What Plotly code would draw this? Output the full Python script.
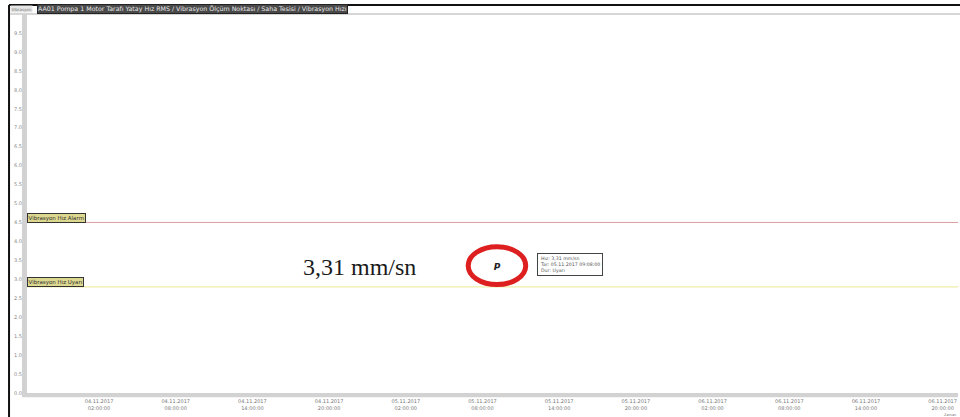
import plotly.graph_objects as go
from datetime import datetime, timedelta

# Time axis ticks (every 6 hours)
tick_times = [
    "2017-11-04 02:00:00", "2017-11-04 08:00:00", "2017-11-04 14:00:00", "2017-11-04 20:00:00",
    "2017-11-05 02:00:00", "2017-11-05 08:00:00", "2017-11-05 14:00:00", "2017-11-05 20:00:00",
    "2017-11-06 02:00:00", "2017-11-06 08:00:00", "2017-11-06 14:00:00", "2017-11-06 20:00:00",
]
tick_text = [
    "04.11.2017<br>02:00:00", "04.11.2017<br>08:00:00", "04.11.2017<br>14:00:00", "04.11.2017<br>20:00:00",
    "05.11.2017<br>02:00:00", "05.11.2017<br>08:00:00", "05.11.2017<br>14:00:00", "05.11.2017<br>20:00:00",
    "06.11.2017<br>02:00:00", "06.11.2017<br>08:00:00", "06.11.2017<br>14:00:00", "06.11.2017<br>20:00:00",
]
x_range = ["2017-11-03 20:22:00", "2017-11-06 21:12:00"]

# Vertical scale (mm/sn)
y_ticks = [i * 0.5 for i in range(20)]
y_range = [0, 10]

# Limits
alarm_level = 4.5
warning_level = 2.8
alarm_label = "Vibrasyon Hız Alarm"
warning_label = "Vibrasyon Hız Uyarı"

# Measured point
point_time = "2017-11-05 09:08:00"
point_value = 3.31
point_label = "3,31 mm/sn"
label_time = "2017-11-04 22:25:00"

title_text = "AA01 Pompa 1 Motor Tarafı Yatay Hız RMS / Vibrasyon Ölçüm Noktası / Saha Tesisi / Vibrasyon Hızı"

fig = go.Figure()

# Limit lines
fig.add_trace(go.Scatter(x=x_range, y=[alarm_level, alarm_level], mode="lines",
                         line=dict(color="#d9a0a0", width=1), hoverinfo="skip", showlegend=False))
fig.add_trace(go.Scatter(x=x_range, y=[warning_level, warning_level], mode="lines",
                         line=dict(color="#eeeeaa", width=1.2), hoverinfo="skip", showlegend=False))

# Measurement marker
fig.add_trace(go.Scatter(x=[point_time], y=[point_value], mode="text", text=["<b><i>P</i></b>"],
                         textfont=dict(family="DejaVu Sans", size=9, color="#222222"),
                         textposition="middle center", showlegend=False))

pt = datetime.strptime(point_time, "%Y-%m-%d %H:%M:%S")
dx = timedelta(hours=2.25)

shapes = [
    # ellipse around the measured point
    dict(type="circle", xref="x", yref="y",
         x0=pt - dx, x1=pt + dx, y0=point_value - 0.45, y1=point_value + 0.55,
         line=dict(color="#dd1f1f", width=5)),
    # outer frame
    dict(type="line", xref="paper", yref="paper", x0=-0.0193, x1=1.01, y0=1.0237, y1=1.0237,
         line=dict(color="#111111", width=2)),
    dict(type="line", xref="paper", yref="paper", x0=-0.0193, x1=-0.0193, y0=-0.07, y1=1.0237,
         line=dict(color="#111111", width=2)),
    # plot frame top line
    dict(type="line", xref="paper", yref="paper", x0=-0.018, x1=1.01, y0=1.0, y1=1.0,
         line=dict(color="#c8c8c8", width=1.5)),
    # vertical axis strip
    dict(type="rect", xref="paper", yref="paper", x0=-0.0054, x1=0.0, y0=-0.009, y1=1.0,
         fillcolor="#d2d2d2", line=dict(width=0)),
    # horizontal axis strip
    dict(type="rect", xref="paper", yref="paper", x0=-0.0054, x1=1.0, y0=-0.011, y1=0.0,
         fillcolor="#d2d2d2", line=dict(width=0)),
]

annotations = [
    # big value label
    dict(x=label_time, y=point_value + 0.02, xref="x", yref="y", text=point_label, showarrow=False,
         font=dict(family="Liberation Serif", size=24, color="#1a1a1a")),
    # limit labels
    dict(x=0.0, y=alarm_level + 0.12, xref="paper", yref="y", text=alarm_label, showarrow=False,
         xanchor="left", yanchor="middle", font=dict(family="DejaVu Sans", size=5.5, color="#333333"),
         bgcolor="#dcd890", bordercolor="#333333", borderwidth=1, borderpad=0.5),
    dict(x=0.0, y=warning_level + 0.12, xref="paper", yref="y", text=warning_label, showarrow=False,
         xanchor="left", yanchor="middle", font=dict(family="DejaVu Sans", size=5.5, color="#333333"),
         bgcolor="#dcd890", bordercolor="#333333", borderwidth=1, borderpad=0.5),
    # tooltip box
    dict(x=0.548, y=3.40, xref="paper", yref="y",
         text="Hız: 3,31 mm/sn<br>Tar: 05.11.2017 09:08:00<br>Dur: Uyarı",
         showarrow=False, xanchor="left", yanchor="middle", align="left",
         font=dict(family="DejaVu Sans", size=4.7, color="#555555"),
         bgcolor="#ffffff", bordercolor="#444444", borderwidth=1, borderpad=2),
    # title bar
    dict(x=0.011, y=1.012, xref="paper", yref="paper", text=title_text, showarrow=False,
         xanchor="left", yanchor="middle", font=dict(family="DejaVu Sans", size=6.3, color="#e8e8e8"),
         bgcolor="#4a4a4a", bordercolor="#222222", borderwidth=1, borderpad=0),
    dict(x=-0.018, y=1.012, xref="paper", yref="paper", text="Vibrasyon", showarrow=False,
         xanchor="left", yanchor="middle", font=dict(family="DejaVu Sans", size=4, color="#777777"),
         bgcolor="#e6e6e6", borderpad=0.5),
    # time axis caption
    dict(x=1.0, y=-0.058, xref="paper", yref="paper", text="Zaman", showarrow=False,
         xanchor="right", yanchor="middle", font=dict(family="DejaVu Sans", size=3.5, color="#777777")),
]

fig.update_layout(
    width=960, height=417,
    margin=dict(l=27, r=2, t=14, b=24),
    paper_bgcolor="#ffffff", plot_bgcolor="#ffffff",
    shapes=shapes, annotations=annotations,
    showlegend=False,
    xaxis=dict(type="date", range=x_range, tickvals=tick_times, ticktext=tick_text,
               showgrid=False, zeroline=False, showline=False, ticks="",
               tickfont=dict(family="DejaVu Sans", size=5, color="#777777"), ticklabelstandoff=4),
    yaxis=dict(range=y_range, tickvals=y_ticks, tickformat=".1f",
               showgrid=False, zeroline=False, showline=False,
               ticks="outside", ticklen=3, tickcolor="#aaaaaa",
               tickfont=dict(family="DejaVu Sans", size=5, color="#888888")),
)

fig.write_html("out.html")
